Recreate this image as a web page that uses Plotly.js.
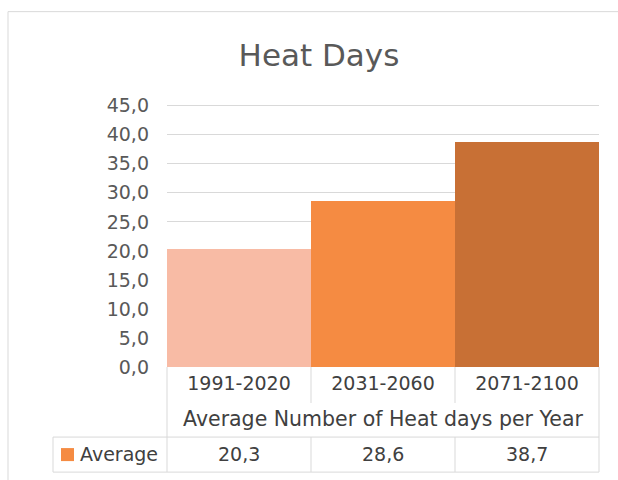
<!DOCTYPE html>
<html>
<head>
<meta charset="utf-8">
<script src="https://cdn.plot.ly/plotly-3.0.1.min.js"></script>
<style>html,body{margin:0;padding:0;background:#fff;}</style>
</head>
<body>
<div id="chart" style="width:618px;height:480px;"></div>
<script>
const categories = ['1991-2020', '2031-2060', '2071-2100'];
const values = [20.3, 28.6, 38.7];
const seriesName = 'Average';
const barColors = ['#F8BBA5', '#F58B42', '#C87035'];
const seriesColor = '#F58B42';
const chartTitle = 'Heat Days';
const xTitle = 'Average Number of Heat days per Year';

const W = 618, H = 480;
const yMax = 45.3;
const L = 167, R = 599, B = 367;
const pxPerUnit = (367 - 106) / 45;
const T = B - yMax * pxPerUnit;
const px = x => (x - L) / (R - L);
const py = y => (B - y) / (B - T);
const lineCol = '#d9d9d9';
const FONT = 'DejaVu Sans, sans-serif';

function hline(x0, x1, y) {
  return {type:'line', xref:'paper', yref:'paper', x0:px(x0), x1:px(x1), y0:py(y), y1:py(y), line:{color:lineCol, width:1}};
}
function vline(x, y0, y1) {
  return {type:'line', xref:'paper', yref:'paper', x0:px(x), x1:px(x), y0:py(y0), y1:py(y1), line:{color:lineCol, width:1}};
}

const shapes = [
  {type:'rect', xref:'paper', yref:'paper', x0:px(8), x1:px(640), y0:py(12), y1:py(500), line:{color:lineCol, width:1}, fillcolor:'rgba(0,0,0,0)', layer:'below'},
  vline(167, 367, 472), vline(599, 367, 472),
  vline(311, 367, 403), vline(455, 367, 403),
  vline(311, 437, 472), vline(455, 437, 472),
  vline(53, 437, 472),
  hline(53, 599, 437), hline(53, 599, 472),
  {type:'rect', xref:'paper', yref:'paper', x0:px(61), x1:px(74), y0:py(448), y1:py(461), line:{width:0}, fillcolor:seriesColor}
];

const fmt = v => v.toFixed(1).replace('.', ',');

const annotations = [
  {text:seriesName, xref:'paper', yref:'paper', x:px(78), y:py(454), xanchor:'left', yanchor:'middle', showarrow:false, font:{family:FONT, size:19, color:'#404040'}}
].concat(categories.map((c, i) => ({
  text: fmt(values[i]), xref:'x', yref:'paper', x:c, y:py(454), xanchor:'center', yanchor:'middle', showarrow:false, font:{family:FONT, size:19, color:'#404040'}
})));

const data = [{
  type:'bar', x:categories, y:values, name:seriesName,
  marker:{color:barColors, line:{width:0}}, hoverinfo:'x+y'
}];

const layout = {
  width:W, height:H,
  margin:{l:L, r:W-R, t:T, b:H-B, pad:0},
  paper_bgcolor:'#fff', plot_bgcolor:'#fff',
  separators:', ',
  showlegend:false,
  bargap:0,
  font:{family:FONT, color:'#404040'},
  title:{text:chartTitle, font:{family:FONT, size:31, color:'#595959'}, xref:'container', yref:'container', x:319/W, y:1-55/H, xanchor:'center', yanchor:'middle'},
  xaxis:{type:'category', showgrid:false, zeroline:false, showline:false, ticks:'', ticklabelstandoff:3, tickfont:{family:FONT, size:19, color:'#404040'},
         title:{text:xTitle, font:{family:FONT, size:20.5, color:'#404040'}, standoff:18}, automargin:false},
  yaxis:{range:[0,yMax], tickvals:[0,5,10,15,20,25,30,35,40,45], tickformat:'.1f', showgrid:true, gridcolor:lineCol, gridwidth:1, zeroline:false, showline:false, ticks:'',
         ticklabelstandoff:17, tickfont:{family:FONT, size:19, color:'#595959'}, automargin:false, fixedrange:true},
  shapes:shapes,
  annotations:annotations
};

Plotly.newPlot('chart', data, layout, {displayModeBar:false, staticPlot:true});
</script>
</body>
</html>
